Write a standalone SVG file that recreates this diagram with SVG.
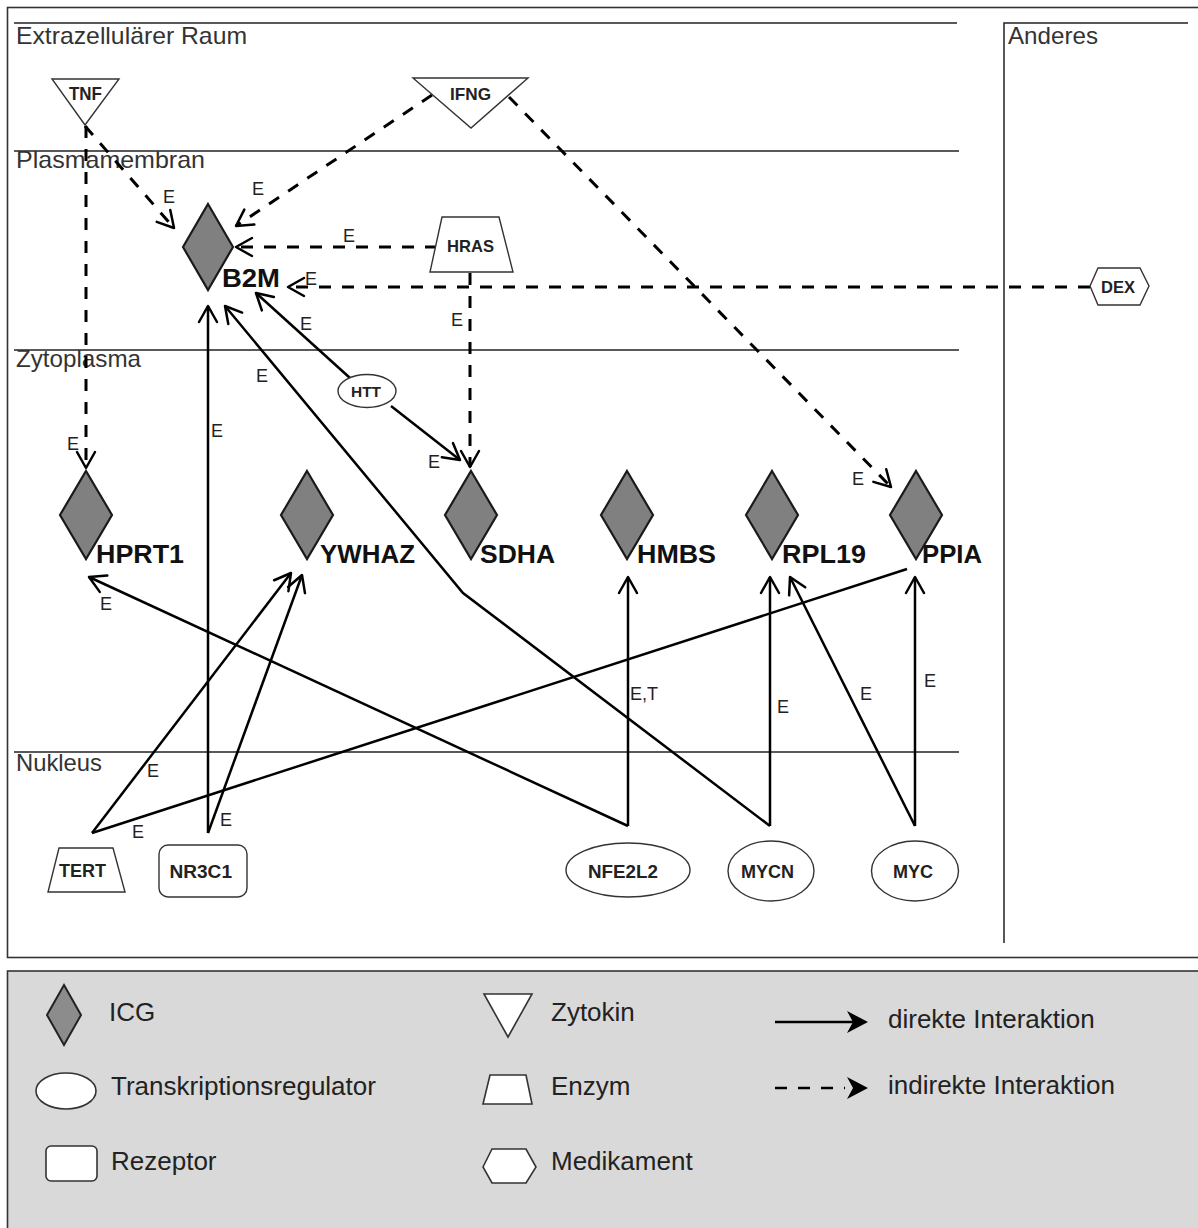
<svg xmlns="http://www.w3.org/2000/svg" width="1198" height="1228" viewBox="0 0 1198 1228">
<defs>
<style>
.frame{fill:#fff;stroke:#333;stroke-width:1.6}
.legend{fill:#d9d9d9;stroke:#333;stroke-width:1.6}
.comp{stroke:#222;stroke-width:1.5;fill:none}
.ctext{font-family:"Liberation Sans",Arial,sans-serif;font-size:24px;fill:#333}
.icg{fill:#808080;stroke:#1a1a1a;stroke-width:2.2;stroke-linejoin:miter}
.icgl{font-family:"Liberation Sans",Arial,sans-serif;font-size:25px;font-weight:bold;fill:#111}
.shape{fill:#fff;stroke:#333;stroke-width:1.4}
.nl{font-family:"Liberation Sans",Arial,sans-serif;font-weight:bold;font-size:18px;fill:#222}
.solid{fill:none;stroke:#000;stroke-width:2.5}
.arrow{marker-end:url(#arr)}
.dash{fill:none;stroke:#000;stroke-width:3;stroke-dasharray:12 11;marker-end:url(#arr)}
.el{font-family:"Liberation Sans",Arial,sans-serif;font-size:18px;fill:#222}
.lt{font-family:"Liberation Sans",Arial,sans-serif;font-size:26px;fill:#222}
.lshape{fill:#fff;stroke:#333;stroke-width:1.6}
</style>
<marker id="arr" markerUnits="userSpaceOnUse" orient="auto" overflow="visible" markerWidth="20" markerHeight="20" refX="0" refY="0">
<path d="M-16,-9 L0,0 L-16,9" fill="none" stroke="#000" stroke-width="2.5" stroke-linecap="round" stroke-linejoin="round"/>
</marker>
</defs>

<g id="background">
<rect class="frame" x="7.5" y="7.5" width="1200" height="950"/>
<rect class="legend" x="7.5" y="971" width="1200" height="270"/>
</g>

<g id="compartments">
<line class="comp" x1="14" y1="23" x2="957" y2="23"/>
<line class="comp" x1="14" y1="151" x2="959" y2="151"/>
<line class="comp" x1="14" y1="350" x2="959" y2="350"/>
<line class="comp" x1="14" y1="752" x2="959" y2="752"/>
<polyline class="comp" points="1004,943 1004,23 1188,23"/>
<text class="ctext" x="16" y="44" textLength="231" lengthAdjust="spacingAndGlyphs">Extrazellulärer Raum</text>
<text class="ctext" x="16" y="168" textLength="189" lengthAdjust="spacingAndGlyphs">Plasmamembran</text>
<text class="ctext" x="16" y="367" textLength="125" lengthAdjust="spacingAndGlyphs">Zytoplasma</text>
<text class="ctext" x="16" y="771" textLength="86" lengthAdjust="spacingAndGlyphs">Nukleus</text>
<text class="ctext" x="1008" y="44" textLength="90" lengthAdjust="spacingAndGlyphs">Anderes</text>
</g>

<g id="connectors">
<path class="dash" d="M85,126 L174,228"/>
<path class="dash" d="M86,126 L86,468"/>
<path class="dash" d="M432,95 L236,226"/>
<path class="dash" d="M509,97 L891,487"/>
<path class="dash" d="M437,247 L236,247"/>
<path class="dash" d="M470,273 L470,467"/>
<path class="dash" d="M1090,287 L288,287"/>
<path class="solid arrow" d="M208,833 L208,306"/>
<path class="solid arrow" d="M770,826 L463,593 L225,306"/>
<path class="solid arrow" d="M350,378 L256,293"/>
<path class="solid arrow" d="M391,406 L460,460"/>
<path class="solid arrow" d="M92,833 L291,573"/>
<path class="solid arrow" d="M208,833 L302,575"/>
<path class="solid" d="M92,833 L907,569"/>
<path class="solid arrow" d="M628,826 L89,577"/>
<path class="solid arrow" d="M628,826 L628,577"/>
<path class="solid arrow" d="M770,826 L770,577"/>
<path class="solid arrow" d="M915,826 L790,577"/>
<path class="solid arrow" d="M915,826 L915,577"/>
<text class="el" x="163" y="203">E</text>
<text class="el" x="67" y="450">E</text>
<text class="el" x="252" y="195">E</text>
<text class="el" x="852" y="485">E</text>
<text class="el" x="343" y="242">E</text>
<text class="el" x="451" y="326">E</text>
<text class="el" x="305" y="285">E</text>
<text class="el" x="211" y="437">E</text>
<text class="el" x="256" y="382">E</text>
<text class="el" x="300" y="330">E</text>
<text class="el" x="428" y="468">E</text>
<text class="el" x="147" y="777">E</text>
<text class="el" x="220" y="826">E</text>
<text class="el" x="132" y="838">E</text>
<text class="el" x="100" y="610">E</text>
<text class="el" x="630" y="700">E,T</text>
<text class="el" x="777" y="713">E</text>
<text class="el" x="860" y="700">E</text>
<text class="el" x="924" y="687">E</text>
</g>

<g id="TNF">
<polygon class="shape" points="52,79 119,79 85,125"/>
<text class="nl" x="69" y="100" font-size="17" textLength="33" lengthAdjust="spacingAndGlyphs">TNF</text>
</g>
<g id="IFNG">
<polygon class="shape" points="413,78 528,78 471,128"/>
<text class="nl" x="450" y="100" style="font-size:17px" textLength="41" lengthAdjust="spacingAndGlyphs">IFNG</text>
</g>
<g id="HRAS">
<polygon class="shape" points="442,217 499,217 513,272 430,272"/>
<text class="nl" x="447" y="252" style="font-size:17px" textLength="47" lengthAdjust="spacingAndGlyphs">HRAS</text>
</g>
<g id="DEX">
<polygon class="shape" points="1090,286 1098,268 1140,268 1149,286 1140,305 1098,305"/>
<text class="nl" x="1101" y="293" style="font-size:17px" textLength="34" lengthAdjust="spacingAndGlyphs">DEX</text>
</g>
<g id="HTT">
<ellipse class="shape" cx="367" cy="391" rx="29" ry="16.5"/>
<text class="nl" x="351" y="397" style="font-size:15px" textLength="30" lengthAdjust="spacingAndGlyphs">HTT</text>
</g>
<g id="TERT">
<polygon class="shape" points="59,848 113,848 125,892 48,892"/>
<text class="nl" x="59" y="877" textLength="47" lengthAdjust="spacingAndGlyphs">TERT</text>
</g>
<g id="NR3C1">
<rect class="shape" x="159" y="845" width="88" height="52" rx="9"/>
<text class="nl" x="169.5" y="878" textLength="62.5" lengthAdjust="spacingAndGlyphs">NR3C1</text>
</g>
<g id="NFE2L2">
<ellipse class="shape" cx="628" cy="870" rx="62" ry="27"/>
<text class="nl" x="588" y="878" textLength="70" lengthAdjust="spacingAndGlyphs">NFE2L2</text>
</g>
<g id="MYCN">
<ellipse class="shape" cx="771" cy="871" rx="43" ry="30"/>
<text class="nl" x="741" y="878" textLength="53" lengthAdjust="spacingAndGlyphs">MYCN</text>
</g>
<g id="MYC">
<ellipse class="shape" cx="915" cy="871" rx="43.5" ry="30"/>
<text class="nl" x="893" y="878" textLength="40" lengthAdjust="spacingAndGlyphs">MYC</text>
</g>

<g id="B2M">
<polygon class="icg" points="208,204 233,247 208,290 183,247"/>
<text class="icgl" x="222" y="287" textLength="58" lengthAdjust="spacingAndGlyphs">B2M</text>
</g>
<g id="HPRT1">
<polygon class="icg" points="86,471 112,515 86,559 60,515"/>
<text class="icgl" x="96" y="563" textLength="88" lengthAdjust="spacingAndGlyphs">HPRT1</text>
</g>
<g id="YWHAZ">
<polygon class="icg" points="307,471 333,515 307,559 281,515"/>
<text class="icgl" x="320" y="563" textLength="95" lengthAdjust="spacingAndGlyphs">YWHAZ</text>
</g>
<g id="SDHA">
<polygon class="icg" points="471,471 497,515 471,559 445,515"/>
<text class="icgl" x="480" y="563" textLength="75" lengthAdjust="spacingAndGlyphs">SDHA</text>
</g>
<g id="HMBS">
<polygon class="icg" points="627,471 653,515 627,559 601,515"/>
<text class="icgl" x="637" y="563" textLength="79" lengthAdjust="spacingAndGlyphs">HMBS</text>
</g>
<g id="RPL19">
<polygon class="icg" points="772,471 798,515 772,559 746,515"/>
<text class="icgl" x="782" y="563" textLength="84" lengthAdjust="spacingAndGlyphs">RPL19</text>
</g>
<g id="PPIA">
<polygon class="icg" points="916,471 942,515 916,559 890,515"/>
<text class="icgl" x="922" y="563" textLength="60" lengthAdjust="spacingAndGlyphs">PPIA</text>
</g>

<g id="legend">
<polygon points="64,985 81,1015 64,1045 47,1015" fill="#8c8c8c" stroke="#222" stroke-width="2"/>
<text class="lt" x="109" y="1021">ICG</text>
<ellipse class="lshape" cx="66" cy="1091" rx="30" ry="18"/>
<text class="lt" x="111" y="1095">Transkriptionsregulator</text>
<rect class="lshape" x="46" y="1146" width="51" height="35" rx="5"/>
<text class="lt" x="111" y="1170">Rezeptor</text>
<polygon class="lshape" points="484,994 532,994 508,1037"/>
<text class="lt" x="551" y="1021">Zytokin</text>
<polygon class="lshape" points="490,1075 526,1075 532,1104 483,1104"/>
<text class="lt" x="551" y="1095">Enzym</text>
<polygon class="lshape" points="483,1167 492,1149 526,1149 536,1167 526,1183 492,1183"/>
<text class="lt" x="551" y="1170">Medikament</text>
<line x1="775" y1="1022" x2="856" y2="1022" stroke="#000" stroke-width="2.5"/>
<polygon points="868,1022 847,1011 853,1022 847,1033" fill="#000"/>
<text class="lt" x="888" y="1028">direkte Interaktion</text>
<line x1="775" y1="1088" x2="845" y2="1088" stroke="#000" stroke-width="2.5" stroke-dasharray="12 11"/>
<polygon points="868,1088 847,1077 853,1088 847,1099" fill="#000"/>
<text class="lt" x="888" y="1094">indirekte Interaktion</text>
</g>
</svg>
